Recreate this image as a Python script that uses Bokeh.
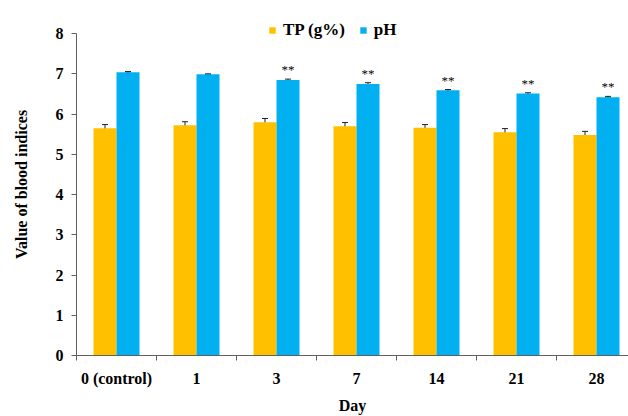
from bokeh.plotting import figure
from bokeh.models import Range1d, FixedTicker, Whisker, TeeHead, ColumnDataSource, Legend, LegendItem, LabelSet
from bokeh.transform import dodge
from bokeh.embed import file_html
from bokeh.resources import INLINE

days = ["0 (control)", "1", "3", "7", "14", "21", "28"]
tp = [5.65, 5.72, 5.80, 5.70, 5.66, 5.55, 5.48]
tp_err = [0.09, 0.09, 0.09, 0.09, 0.08, 0.09, 0.09]
ph = [7.04, 6.99, 6.85, 6.75, 6.59, 6.51, 6.42]
ph_err = [0.02, 0.01, 0.02, 0.03, 0.02, 0.02, 0.02]
sig = ["", "", "**", "**", "**", "**", "**"]

FONT = "Liberation Serif"
ORANGE = "#FFC000"
BLUE = "#00B0F0"

x = [i + 0.5 for i in range(len(days))]
src = ColumnDataSource(dict(
    x=x, tp=tp, ph=ph,
    tp_lo=[v - e for v, e in zip(tp, tp_err)], tp_hi=[v + e for v, e in zip(tp, tp_err)],
    ph_lo=[v - e for v, e in zip(ph, ph_err)], ph_hi=[v + e for v, e in zip(ph, ph_err)],
    sig=sig,
))

p = figure(width=628, height=416, output_backend="svg", toolbar_location=None,
           x_range=Range1d(0, 6.9), y_range=Range1d(0, 8.5),
           min_border_left=76, min_border_right=0, min_border_top=13, min_border_bottom=61)
p.outline_line_color = None
p.grid.grid_line_color = None
p.background_fill_color = "white"
p.border_fill_color = "white"

w = 0.2875
r_tp = p.vbar(x=dodge("x", -w / 2, range=p.x_range), top="tp", width=w, source=src,
              fill_color=ORANGE, line_color=None)
r_ph = p.vbar(x=dodge("x", w / 2, range=p.x_range), top="ph", width=w, source=src,
              fill_color=BLUE, line_color=None)

for lo, hi, off in (("tp_lo", "tp_hi", -w / 2), ("ph_lo", "ph_hi", w / 2)):
    wk = Whisker(base=dodge("x", off, range=p.x_range), lower=lo, upper=hi, source=src,
                 line_color="#222222", line_width=1,
                 upper_head=TeeHead(size=6, line_color="#222222", line_width=1),
                 lower_head=TeeHead(size=6, line_color="#222222", line_width=1))
    p.add_layout(wk)

labels = LabelSet(x=dodge("x", w / 2, range=p.x_range), y="ph_hi", text="sig", source=src,
                  text_align="center", text_baseline="bottom", y_offset=2,
                  text_font=FONT, text_font_size="13px", text_color="black")
p.add_layout(labels)

# axes
xa = p.xaxis[0]
xa.ticker = FixedTicker(ticks=x, minor_ticks=list(range(0, 8)))
xa.major_label_overrides = {v: d for v, d in zip(x, days)}
xa.major_tick_out = 0
xa.major_tick_in = 0
xa.minor_tick_out = 5
xa.minor_tick_in = 0
xa.minor_tick_line_color = "#606060"
xa.axis_line_color = "#606060"
xa.major_label_standoff = 9
xa.major_label_text_font = FONT
xa.major_label_text_font_style = "bold"
xa.major_label_text_font_size = "16px"
xa.major_label_text_color = "black"
xa.axis_label = "Day"
xa.axis_label_text_font = FONT
xa.axis_label_text_font_style = "bold"
xa.axis_label_text_font_size = "16px"
xa.axis_label_text_color = "black"
xa.axis_label_standoff = 7

ya = p.yaxis[0]
ya.ticker = FixedTicker(ticks=list(range(0, 9)), minor_ticks=[])
ya.bounds = (0, 8)
ya.major_tick_out = 5
ya.major_tick_in = 0
ya.major_tick_line_color = "#606060"
ya.minor_tick_line_color = None
ya.axis_line_color = "#606060"
ya.major_label_standoff = 8
ya.major_label_text_font = FONT
ya.major_label_text_font_style = "bold"
ya.major_label_text_font_size = "16px"
ya.major_label_text_color = "black"
ya.axis_label = "Value of blood indices"
ya.axis_label_text_font = FONT
ya.axis_label_text_font_style = "bold"
ya.axis_label_text_font_size = "16px"
ya.axis_label_text_color = "black"
ya.axis_label_standoff = 23

legend = Legend(items=[LegendItem(label="TP (g%)", renderers=[r_tp]),
                       LegendItem(label="pH", renderers=[r_ph])],
                orientation="horizontal", location=(192, 315),
                glyph_width=8, glyph_height=8, spacing=14, label_standoff=7,
                label_text_font=FONT, label_text_font_style="bold", label_text_font_size="17px",
                label_text_color="black",
                border_line_color=None, background_fill_alpha=0, padding=2, margin=0)
p.add_layout(legend)

open("out.html", "w").write(file_html(p, INLINE))
